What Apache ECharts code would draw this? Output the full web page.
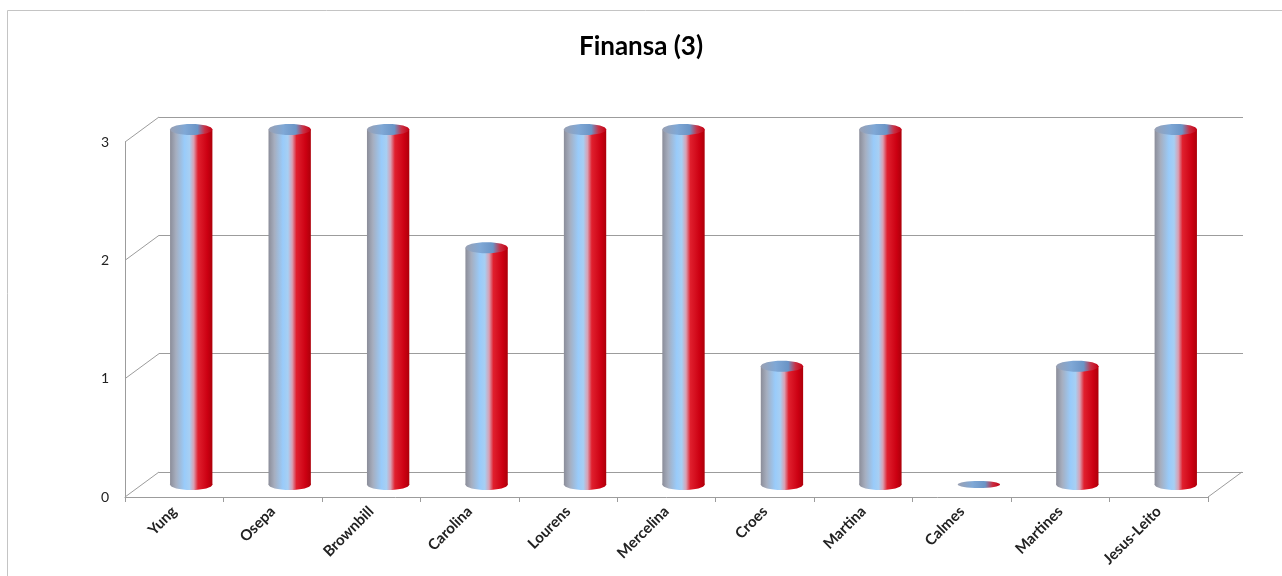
<!DOCTYPE html>
<html><head><meta charset="utf-8">
<script src="https://cdn.jsdelivr.net/npm/echarts@6/dist/echarts.min.js"></script>
<style>html,body{margin:0;padding:0;background:#fff}#c{width:1282px;height:576px}</style>
</head><body><div id="c"></div>
<script>
const chartTitle = 'Finansa (3)';
const categories = ['Yung','Osepa','Brownbill','Carolina','Lourens','Mercelina','Croes','Martina','Calmes','Martines','Jesus-Leito'];
const values = [3,3,3,2,3,3,1,3,0,1,3];
const yTicks = [0,1,2,3];

const DX = 34, DY = -25;
const lineColor = '#9c9c9c';
const bodyGrad = {type:'linear', x:0, y:0, x2:1, y2:0, colorStops:[
  {offset:0, color:'#8b8d99'},
  {offset:0.14, color:'#a6aebf'},
  {offset:0.34, color:'#99cbfa'},
  {offset:0.46, color:'#a7cff3'},
  {offset:0.56, color:'#d9a0b3'},
  {offset:0.66, color:'#e0202e'},
  {offset:0.88, color:'#cc0012'},
  {offset:1, color:'#ad000a'}
]};
const topGrad = {type:'linear', x:0, y:0, x2:1, y2:0, colorStops:[
  {offset:0, color:'#9aa0b2'},
  {offset:0.35, color:'#7fa8d6'},
  {offset:0.65, color:'#6a94c6'},
  {offset:0.82, color:'#c93045'},
  {offset:1, color:'#c40012'}
]};

const chart = echarts.init(document.getElementById('c'), null, {renderer:'canvas'});
const option = {
  backgroundColor:'#ffffff',
  animation:false,
  title:{text:chartTitle, left:'center', top:29,
    textStyle:{fontFamily:'Lato', fontWeight:'bold', fontSize:26, color:'#000'}},
  graphic:[{type:'rect', x:7.5, y:10.5, shape:{x:0,y:0,width:1300,height:600},
    style:{fill:'none', stroke:'#c4c4c4', lineWidth:1}, silent:true}],
  grid:[
    {left:125, top:142, width:1083, height:355},
    {left:159, top:117, width:1084, height:355},
    {left:142, top:129.5, width:1083, height:355}
  ],
  xAxis:[
    {gridIndex:0, type:'category', data:categories, boundaryGap:true,
      axisLine:{show:true, lineStyle:{color:lineColor}},
      axisTick:{show:true, length:5, lineStyle:{color:lineColor}},
      axisLabel:{rotate:45, margin:12, fontFamily:'Lato', fontWeight:'bold', fontSize:15, color:'#222', interval:0},
      splitLine:{show:false}},
    {gridIndex:1, type:'category', data:categories, show:false},
    {gridIndex:2, type:'category', data:categories, show:false}
  ],
  yAxis:[
    {gridIndex:0, type:'value', min:0, max:3, interval:1,
      axisLine:{show:true, lineStyle:{color:lineColor}},
      axisTick:{show:false},
      axisLabel:{margin:16, fontFamily:'Lato', fontSize:14, color:'#222'},
      splitLine:{show:false}},
    {gridIndex:1, type:'value', min:0, max:3, interval:1,
      axisLine:{show:false}, axisTick:{show:false}, axisLabel:{show:false},
      splitLine:{show:true, lineStyle:{color:lineColor, width:1}}},
    {gridIndex:2, type:'value', min:0, max:3, interval:1, show:false, splitLine:{show:false}}
  ],
  series:[
    {type:'custom', xAxisIndex:0, yAxisIndex:0, silent:true, z:1,
      data: yTicks.map(v => [v]),
      renderItem(params, api){
        const v = api.value(0);
        const band = api.size([1,0])[0];
        const p = api.coord([0, v]);
        const xl = p[0] - band/2;
        const kids = [{type:'line', shape:{x1:xl, y1:p[1], x2:xl+DX, y2:p[1]+DY},
          style:{stroke:lineColor, lineWidth:1}}];
        if (v === 0) {
          const q = api.coord([categories.length-1, 0]);
          const xr = q[0] + band/2;
          kids.push({type:'line', shape:{x1:xr, y1:q[1], x2:xr+DX, y2:q[1]+DY},
            style:{stroke:lineColor, lineWidth:1}});
        }
        return {type:'group', children:kids};
      }},
    {type:'custom', xAxisIndex:2, yAxisIndex:2, silent:true, z:3,
      data: values.map((v,i) => [i, v]),
      renderItem(params, api){
        const i = api.value(0), v = api.value(1);
        const top = api.coord([i, v]);
        const bot = api.coord([i, 0]);
        const band = api.size([1,0])[0];
        const w = band * 0.43, rx = w/2, ry = 5.5;
        const kids = [];
        if (v > 0) {
          kids.push({type:'rect', shape:{x:top[0]-rx, y:top[1], width:w, height:bot[1]-top[1]}, style:{fill:bodyGrad}});
          kids.push({type:'ellipse', shape:{cx:bot[0], cy:bot[1], rx:rx, ry:ry}, style:{fill:bodyGrad}});
          kids.push({type:'ellipse', shape:{cx:top[0], cy:top[1], rx:rx, ry:ry}, style:{fill:topGrad}});
        } else {
          kids.push({type:'ellipse', shape:{cx:bot[0], cy:bot[1], rx:rx, ry:3.5}, style:{fill:topGrad}});
        }
        return {type:'group', children:kids};
      }}
  ]
};
chart.setOption(option);
</script>
</body></html>
